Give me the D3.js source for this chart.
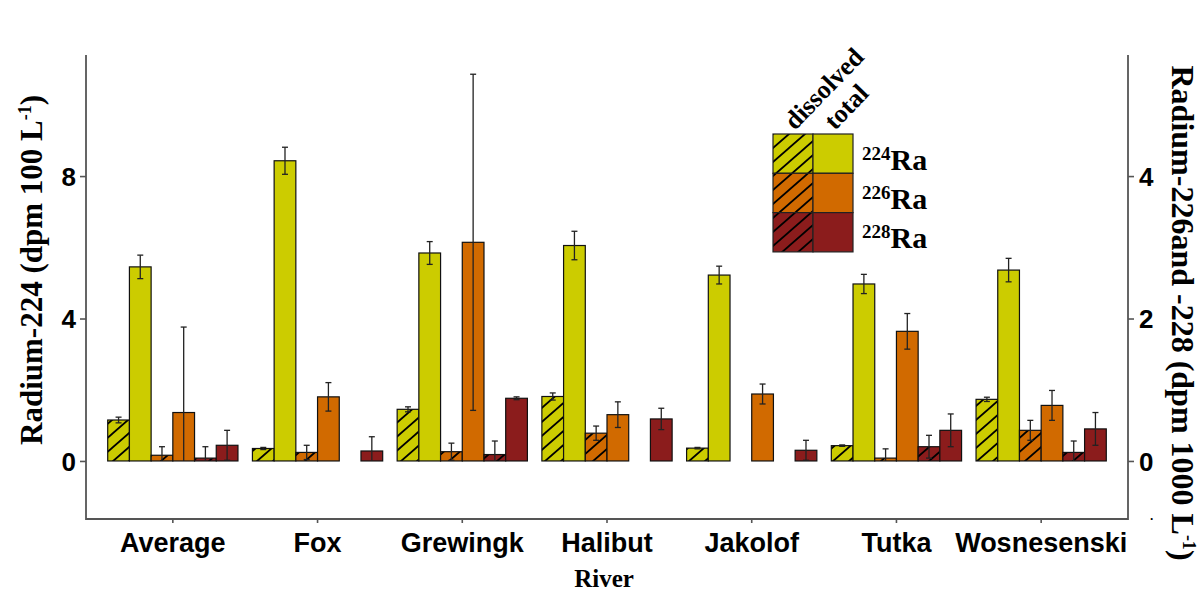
<!DOCTYPE html>
<html>
<head>
<meta charset="utf-8">
<script src="https://cdn.jsdelivr.net/npm/d3@7"></script>
<style>
  body { margin: 0; background: #fff; }
  svg { display: block; }
</style>
</head>
<body>
<svg id="chart" width="1201" height="593"></svg>
<script>
// River sites
const rivers = ["Average", "Fox", "Grewingk", "Halibut", "Jakolof", "Tutka", "Wosnesenski"];

// 224Ra (dpm 100 L^-1), left axis
const ra224Dissolved    = [1.15, 0.35, 1.45, 1.81, 0.36, 0.43, 1.73];
const ra224DissolvedErr = [0.08, 0.03, 0.07, 0.10, 0.02, 0.02, 0.06];
const ra224Total        = [5.45, 8.43, 5.84, 6.05, 5.22, 4.97, 5.36];
const ra224TotalErr     = [0.33, 0.38, 0.32, 0.40, 0.25, 0.27, 0.33];

// 226Ra (dpm 1000 L^-1), right axis
const ra226Dissolved    = [0.08, 0.12, 0.13, 0.39, 0.00, 0.04, 0.43];
const ra226DissolvedErr = [0.12, 0.10, 0.12, 0.10, 0.00, 0.13, 0.14];
const ra226Total        = [0.68, 0.90, 3.07, 0.65, 0.94, 1.82, 0.78];
const ra226TotalErr     = [1.20, 0.20, 2.36, 0.18, 0.14, 0.25, 0.21];

// 228Ra (dpm 1000 L^-1), right axis
const ra228Dissolved    = [0.04, 0.00, 0.09, 0.00, 0.00, 0.20, 0.12];
const ra228DissolvedErr = [0.16, 0.00, 0.19, 0.00, 0.00, 0.16, 0.16];
const ra228Total        = [0.22, 0.14, 0.88, 0.59, 0.15, 0.43, 0.45];
const ra228TotalErr     = [0.21, 0.20, 0.02, 0.15, 0.14, 0.23, 0.23];

// Axis ticks
const leftTicks  = [0, 4, 8];
const rightTicks = [0, 2, 4];

// Isotope legend labels
const isotopes = ["224", "226", "228"];
const fractions = ["dissolved", "total"];

const colors = { "224": "#cccc00", "226": "#d16a00", "228": "#8b1c1c" };

const series = [
  { key: "d224", iso: "224", hatched: true,  axis: "left",  vals: ra224Dissolved, errs: ra224DissolvedErr },
  { key: "t224", iso: "224", hatched: false, axis: "left",  vals: ra224Total,     errs: ra224TotalErr },
  { key: "d226", iso: "226", hatched: true,  axis: "right", vals: ra226Dissolved, errs: ra226DissolvedErr },
  { key: "t226", iso: "226", hatched: false, axis: "right", vals: ra226Total,     errs: ra226TotalErr },
  { key: "d228", iso: "228", hatched: true,  axis: "right", vals: ra228Dissolved, errs: ra228DissolvedErr },
  { key: "t228", iso: "228", hatched: false, axis: "right", vals: ra228Total,     errs: ra228TotalErr }
];

const svg = d3.select("#chart");
const plot = { left: 86, right: 1128, top: 55, bottom: 519 };

const x0 = d3.scaleBand().domain(rivers).range([plot.left, plot.right])
  .paddingInner(0.1).paddingOuter(0.15);
const x1 = d3.scaleBand().domain(series.map(s => s.key)).range([0, x0.bandwidth()]);
const yLeft  = d3.scaleLinear().domain([-1.63, 11.4]).range([plot.bottom, plot.top]);
const yRight = d3.scaleLinear().domain([-0.815, 5.7]).range([plot.bottom, plot.top]);

// Hatch patterns for the dissolved fraction
const defs = svg.append("defs");
isotopes.forEach(iso => {
  const p = defs.append("pattern")
    .attr("id", "hatch" + iso)
    .attr("patternUnits", "userSpaceOnUse")
    .attr("width", 16).attr("height", 14);
  p.append("rect").attr("width", 16).attr("height", 14).attr("fill", colors[iso]);
  p.append("path")
    .attr("d", "M-2,1.75 L2,-1.75 M0,14 L16,0 M14,15.75 L18,12.25")
    .attr("stroke", "#000").attr("stroke-width", 1.8);
});

// Bars
const rows = [];
rivers.forEach((r, i) => {
  series.forEach(s => {
    rows.push({ river: r, key: s.key, iso: s.iso, hatched: s.hatched,
      y: s.axis === "left" ? yLeft : yRight, v: s.vals[i], e: s.errs[i] });
  });
});

const barG = svg.append("g");
barG.selectAll("rect").data(rows).join("rect")
  .attr("x", d => x0(d.river) + x1(d.key))
  .attr("width", x1.bandwidth())
  .attr("y", d => d.y(d.v))
  .attr("height", d => d.y(0) - d.y(d.v))
  .attr("fill", d => d.hatched ? `url(#hatch${d.iso})` : colors[d.iso])
  .attr("stroke", "#111").attr("stroke-width", 1.2);

// Error bars
const errG = svg.append("g").attr("stroke", "#222").attr("stroke-width", 1.3);
rows.filter(d => d.e > 0).forEach(d => {
  const cx = x0(d.river) + x1(d.key) + x1.bandwidth() / 2;
  const hi = d.y(d.v + d.e);
  const loV = Math.max(0, d.v - d.e);
  const lo = d.y(loV);
  errG.append("line").attr("x1", cx).attr("x2", cx).attr("y1", hi).attr("y2", lo);
  errG.append("line").attr("x1", cx - 3).attr("x2", cx + 3).attr("y1", hi).attr("y2", hi);
  if (d.v - d.e > 0) {
    errG.append("line").attr("x1", cx - 3).attr("x2", cx + 3).attr("y1", lo).attr("y2", lo);
  }
});

// Axes
function styleAxis(size) {
  return g => {
    g.select(".domain").remove();
    g.selectAll(".tick line").attr("stroke", "#555").attr("stroke-width", 1.6);
    g.selectAll(".tick text")
      .style("font", `bold ${size}px 'Liberation Sans', Arial, sans-serif`)
      .attr("fill", "#000");
  };
}

svg.append("g").attr("transform", `translate(${plot.left},0)`)
  .call(d3.axisLeft(yLeft).tickValues(leftTicks).tickFormat(d3.format("d")).tickSize(6).tickPadding(4))
  .call(styleAxis(26))
  .selectAll(".tick text").attr("dy", "0.36em");

svg.append("g").attr("transform", `translate(${plot.right},0)`)
  .call(d3.axisRight(yRight).tickValues(rightTicks).tickFormat(d3.format("d")).tickSize(6).tickPadding(5))
  .call(styleAxis(26))
  .selectAll(".tick text").attr("dy", "0.36em");

svg.append("g").attr("transform", `translate(0,${plot.bottom})`)
  .call(d3.axisBottom(x0).tickSize(4).tickPadding(10))
  .call(styleAxis(27))
  .selectAll(".tick text").attr("dy", "0.71em");

// Axis lines (left, bottom, right)
svg.append("path")
  .attr("d", `M${plot.left},${plot.top} V${plot.bottom} H${plot.right} V${plot.top}`)
  .attr("fill", "none").attr("stroke", "#555").attr("stroke-width", 1.8);

// Stray mark below the right axis
svg.append("text").attr("x", 1150).attr("y", 520)
  .style("font", "bold 12px 'Liberation Sans', Arial, sans-serif").text(".");

// Axis titles
const lt = svg.append("text")
  .attr("transform", "translate(42,270) rotate(-90)")
  .attr("text-anchor", "middle")
  .style("font", "bold 31px 'Liberation Serif', 'Times New Roman', serif");
lt.append("tspan").text("Radium-224 (dpm 100 L");
lt.append("tspan").attr("dy", -11).style("font-size", "18px").text("-1");
lt.append("tspan").attr("dy", 11).text(")");

const rt = svg.append("text")
  .attr("transform", "translate(1172,313) rotate(90)")
  .attr("text-anchor", "middle")
  .style("font", "bold 32px 'Liberation Serif', 'Times New Roman', serif");
rt.append("tspan").text("Radium-226and -228 (dpm 1000 L");
rt.append("tspan").attr("dy", -11).style("font-size", "18px").text("-1");
rt.append("tspan").attr("dy", 11).text(")");

svg.append("text").attr("x", 604).attr("y", 587)
  .attr("text-anchor", "middle")
  .style("font", "bold 25px 'Liberation Serif', 'Times New Roman', serif")
  .text("River");

// Legend: hatched (dissolved) and solid (total) swatches per isotope
const lg = svg.append("g").attr("transform", "translate(773,134)");
const cellW = 40, cellH = 39.3;
isotopes.forEach((iso, r) => {
  [0, 1].forEach(c => {
    lg.append("rect")
      .attr("x", c * cellW).attr("y", r * cellH)
      .attr("width", cellW).attr("height", cellH)
      .attr("fill", c === 0 ? `url(#hatch${iso})` : colors[iso])
      .attr("stroke", "#222").attr("stroke-width", 1.2);
  });
  const t = lg.append("text")
    .attr("x", 89).attr("y", r * cellH + cellH / 2 + 16)
    .style("font", "bold 30px 'Liberation Serif', 'Times New Roman', serif");
  t.append("tspan").attr("dy", -10).style("font-size", "19px").text(iso);
  t.append("tspan").attr("dy", 10).text("Ra");
});
fractions.forEach((f, c) => {
  lg.append("text")
    .attr("transform", `translate(${c * cellW + 22},-3) rotate(-46)`)
    .style("font", "bold 26px 'Liberation Serif', 'Times New Roman', serif")
    .text(f);
});
</script>
</body>
</html>
